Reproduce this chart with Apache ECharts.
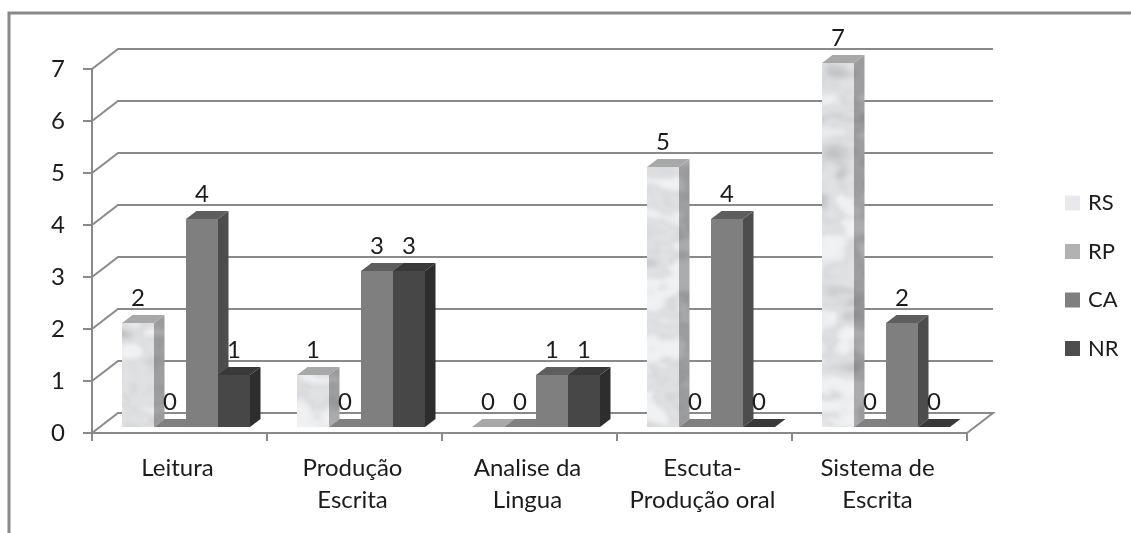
<!DOCTYPE html>
<html><head><meta charset="utf-8">
<style>html,body{margin:0;padding:0;background:#fff}#c{width:1131px;height:533px}</style>
<script src="https://cdn.jsdelivr.net/npm/echarts@6/dist/echarts.min.js"></script>
</head><body><div id="c"></div>
<script>
const categories = ['Leitura','Produção\nEscrita','Analise da\nLingua','Escuta-\nProdução oral','Sistema de\nEscrita'];
const rs = [2,1,0,5,7];
const rp = [0,0,0,0,0];
const ca = [4,3,1,4,2];
const nr = [1,3,1,0,0];
const yTicks = [0,1,2,3,4,5,6,7];
const FONT = 'Lato, "Open Sans", sans-serif';
const TEXT = '#1c1c1c', LINE = '#8a8a8a';

// Marble fill for the RS bars: a fixed value-noise image the size of the page, softened
function hash(i,j){ const s = Math.sin(i*127.1 + j*311.7)*43758.5453; return s - Math.floor(s); }
function smooth(t){ return t*t*(3-2*t); }
function vnoise(x,y){
  const i = Math.floor(x), j = Math.floor(y), u = smooth(x-i), v = smooth(y-j);
  const a = hash(i,j), b = hash(i+1,j), c = hash(i,j+1), d = hash(i+1,j+1);
  return (a+(b-a)*u)*(1-v) + (c+(d-c)*u)*v;
}
function marble(light, shade){
  const W = 1131, H = 533;
  const c = document.createElement('canvas'); c.width = W; c.height = H;
  const g = c.getContext('2d'), img = g.createImageData(W,H), d = img.data;
  for (let y=0;y<H;y++) for (let x=0;x<W;x++){
    const warp = vnoise(x*0.04, y*0.04)*1.4;
    let n = 0.6*vnoise(x*0.025+warp, y*0.06+7) + 0.28*vnoise(x*0.06, y*0.15+warp+3) + 0.12*vnoise(x*0.18, y*0.3);
    const vein = Math.max(0, 1 - Math.abs(n-0.46)*6);
    const cloud = Math.max(0, n-0.48)*1.5;
    const k = Math.min(1, 0.32*vein*vein + cloud);
    const p = (y*W+x)*4;
    for (let q=0;q<3;q++) d[p+q] = light[q] + (shade[q]-light[q])*k;
    d[p+3] = 255;
  }
  g.putImageData(img,0,0);
  const o = document.createElement('canvas'); o.width = W; o.height = H;
  const og = o.getContext('2d');
  og.filter = 'blur(2px)';
  og.drawImage(c,0,0);
  return o;
}
const frontTex = marble([240,241,243],[150,152,155]);
const sideTex  = marble([172,172,174],[95,95,98]);

const D = {fx:26, fy:-20};      // chart depth
const OFF = {y:-6};             // bars start this far behind the front plane
const B = {w:32, dx:10.5, dy:-8, start:30}; // bar shape

const palettes = {
  RS:{front:{image:frontTex,repeat:'no-repeat'}, side:{image:sideTex,repeat:'no-repeat'}, top:'#a8a8a8', legend:'#e8e9ed'},
  RP:{front:'#b2b2b2', side:'#7d7d7d', top:'#808080', legend:'#b2b2b2'},
  CA:{front:'#7f7f7f', side:'#4d4d4d', top:'#5e5e5e', legend:'#7f7f7f'},
  NR:{front:'#474747', side:'#2d2d2d', top:'#393939', legend:'#4d4d4d'}
};
const poly = (pts, fill) => ({type:'polygon', shape:{points:pts}, style:{fill}, silent:true});

function barRender(idx, pal){
  return function(params, api){
    const cat = api.value(0), v = api.value(1);
    const base = api.coord([cat,0]), top = api.coord([cat,v]);
    const band = api.size([1,0])[0];
    const x0 = base[0] - band/2 + B.start + idx*B.w, x1 = x0 + B.w;
    const y0 = base[1] + OFF.y, y1 = top[1] + OFF.y;
    const dx = B.dx, dy = B.dy;
    const kids = [];
    if (v > 0) {
      kids.push(poly([[x1,y0],[x1+dx,y0+dy],[x1+dx,y1+dy],[x1,y1]], pal.side));
      kids.push(poly([[x0,y0],[x1,y0],[x1,y1],[x0,y1]], pal.front));
    }
    kids.push(poly([[x0,y1],[x1,y1],[x1+dx,y1+dy],[x0+dx,y1+dy]], pal.top));
    return {type:'group', children:kids};
  };
}
function labelRender(idx){
  return function(params, api){
    const cat = api.value(0), v = api.value(1);
    const base = api.coord([cat,0]), top = api.coord([cat,v]);
    const band = api.size([1,0])[0];
    const cx = base[0] - band/2 + B.start + idx*B.w + B.w/2;
    return {type:'text', silent:true, style:{x:cx, y:top[1]+OFF.y-25, text:String(v),
      fill:TEXT, font:'24px '+FONT, textAlign:'center', textVerticalAlign:'middle'}};
  };
}
function wallRender(params, api){
  const v = api.value(0);
  const a = api.coord([0,v]);
  const band = api.size([1,0])[0];
  const xL = a[0] - band/2, xR = xL + band*categories.length;
  const pts = [[xL,a[1]],[xL+D.fx,a[1]+D.fy],[xR+D.fx,a[1]+D.fy]];
  if (v === 0) pts.push([xR,a[1]]);
  return {type:'polyline', silent:true, shape:{points:pts},
    style:{fill:'none', stroke:LINE, lineWidth:2}};
}

const names = ['RS','RP','CA','NR'], sets = [rs,rp,ca,nr];
const series = [{
  type:'custom', name:'_wall', coordinateSystem:'cartesian2d', z:1, silent:true,
  renderItem:wallRender, data:yTicks.map(v=>[v]), encode:{y:0}
}];
names.forEach((n,i)=>{
  series.push({type:'custom', name:n, coordinateSystem:'cartesian2d', z:3, silent:true,
    itemStyle:{color:palettes[n].legend}, renderItem:barRender(i,palettes[n]),
    data:sets[i].map((v,c)=>[c,v]), encode:{x:0,y:1}});
});
names.forEach((n,i)=>{
  series.push({type:'custom', name:n+'_label', coordinateSystem:'cartesian2d', z:6, silent:true,
    renderItem:labelRender(i), data:sets[i].map((v,c)=>[c,v]), encode:{x:0,y:1}});
});

const chart = echarts.init(document.getElementById('c'), null, {renderer:'canvas'});
chart.setOption({
  animation:false, backgroundColor:'#fff',
  graphic:[{type:'polyline', silent:true, z:0, shape:{points:[[9,533],[9,13],[1131,13]]},
    style:{fill:'none', stroke:'#8a8a8a', lineWidth:3}}],
  grid:{left:92, right:164, top:69, bottom:100, containLabel:false},
  legend:{orient:'vertical', left:1065, top:192, itemWidth:15, itemHeight:15, itemGap:26.5,
    padding:0, icon:'rect', selectedMode:false, data:names,
    textStyle:{fontFamily:FONT, fontSize:22, color:TEXT, padding:[0,0,0,3]}},
  xAxis:{type:'category', data:categories, boundaryGap:true,
    axisLine:{show:true, lineStyle:{color:LINE, width:2}},
    axisTick:{show:true, length:8, lineStyle:{color:LINE, width:2}},
    axisLabel:{interval:0, fontFamily:FONT, fontSize:24, color:TEXT, lineHeight:32, margin:19, padding:[0,4,0,0]},
    splitLine:{show:false}},
  yAxis:{type:'value', min:0, max:7, interval:1,
    axisLine:{show:true, lineStyle:{color:LINE, width:2}},
    axisTick:{show:true, length:9, lineStyle:{color:LINE, width:2}},
    axisLabel:{fontFamily:FONT, fontSize:24, color:TEXT, margin:27, padding:[11,0,0,0]},
    splitLine:{show:false}},
  series
});
</script></body></html>
